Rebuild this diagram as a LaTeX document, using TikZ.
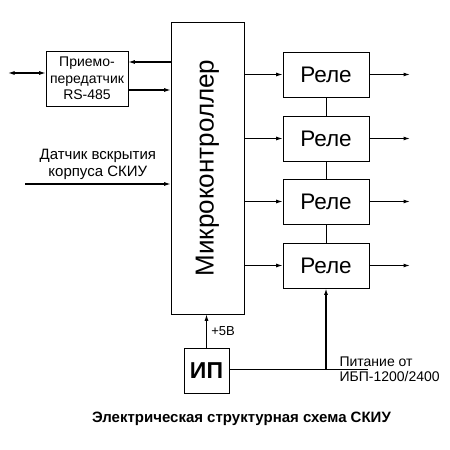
\documentclass[tikz,border=0pt]{standalone}
\usepackage{fontspec}
\setmainfont{Liberation Sans}
\usetikzlibrary{positioning, arrows.meta}

\begin{document}
\begin{tikzpicture}[
    x=1pt, y=1pt,
    >={Latex[length=6.5pt,width=4pt]},
    block/.style={draw, line width=0.7pt, inner sep=0pt, align=center},
    link/.style={->, line width=1.1pt},
    rele/.style={block, minimum width=86pt, minimum height=45pt, font=\fontsize{22.5}{26}\selectfont}
]
    \useasboundingbox[fill=white] (0,0) rectangle (450,450);

    % Блоки
    \node[block, minimum width=73pt, minimum height=292pt] (mc) at (207.5, 282)
        {\rotatebox{90}{\fontsize{26}{30}\selectfont Микроконтроллер}};
    \node[block, minimum width=82pt, minimum height=55pt,
          font=\fontsize{14}{16.5}\selectfont] (rs) at (87, 371.5)
        {Приемо-\\передатчик\\RS-485};
    \node[block, minimum width=45pt, minimum height=45pt,
          font=\fontsize{23}{26}\selectfont\bfseries] (ip) at (206.5, 79.5) {ИП};

    % Реле
    \node[rele] (rele1) at (326, 375.5) {Реле};
    \node[rele] (rele2) at (326, 311.5) {Реле};
    \node[rele] (rele3) at (326, 248.5) {Реле};
    \node[rele] (rele4) at (326, 184.5) {Реле};

    % Свободные концы
    \coordinate (bus) at (8, 377);
    \coordinate (sens) at (25, 266);
    \coordinate (out1) at (410, 375.5);
    \coordinate (out2) at (410, 311.5);
    \coordinate (out3) at (410, 248.5);
    \coordinate (out4) at (410, 184.5);
    \coordinate (pwr) at (326, 81);
    \coordinate (pwrend) at (368, 81);

    % Интерфейс RS-485
    \draw[<->, line width=1.1pt] (bus) -- (bus -| rs.west);
    \draw[link] (mc.west |- 0,388) -- (rs.east |- 0,388);
    \draw[link] (rs.east |- 0,360) -- (mc.west |- 0,360);

    % Датчик вскрытия
    \draw[link] (sens) -- (sens -| mc.west)
        node[pos=0.5, above=1pt, align=center, font=\fontsize{15}{17}\selectfont] (senslabel)
        {Датчик вскрытия\\корпуса СКИУ};

    % Выходы микроконтроллера на реле
    \draw[link] (mc.east |- rele1.west) -- (rele1.west);
    \draw[link] (mc.east |- rele2.west) -- (rele2.west);
    \draw[link] (mc.east |- rele3.west) -- (rele3.west);
    \draw[link] (mc.east |- rele4.west) -- (rele4.west);

    % Выходы реле
    \draw[link] (rele1.east) -- (out1);
    \draw[link] (rele2.east) -- (out2);
    \draw[link] (rele3.east) -- (out3);
    \draw[link] (rele4.east) -- (out4);

    % Связи между реле
    \draw[line width=0.7pt] (rele1.south) -- (rele2.north);
    \draw[line width=0.7pt] (rele2.south) -- (rele3.north);
    \draw[line width=0.7pt] (rele3.south) -- (rele4.north);

    % Питание
    \draw[link] (ip.north) -- (ip.north |- mc.south)
        node[pos=0.5, right=1pt, font=\fontsize{13}{15}\selectfont] (plus5) {+5В};
    \draw[line width=0.7pt] (ip.east |- pwr) -- (pwrend);
    \draw[->, line width=2pt] (pwr) -- (rele4.south);
    \node[anchor=west, align=left, font=\fontsize{14}{15}\selectfont] (pwrlabel) at (336, 81)
        {Питание от\\ИБП-1200/2400};

    % Подпись
    \node[font=\fontsize{15}{17}\selectfont\bfseries] (caption) at (241.5, 31)
        {Электрическая структурная схема СКИУ};
\end{tikzpicture}
\end{document}
